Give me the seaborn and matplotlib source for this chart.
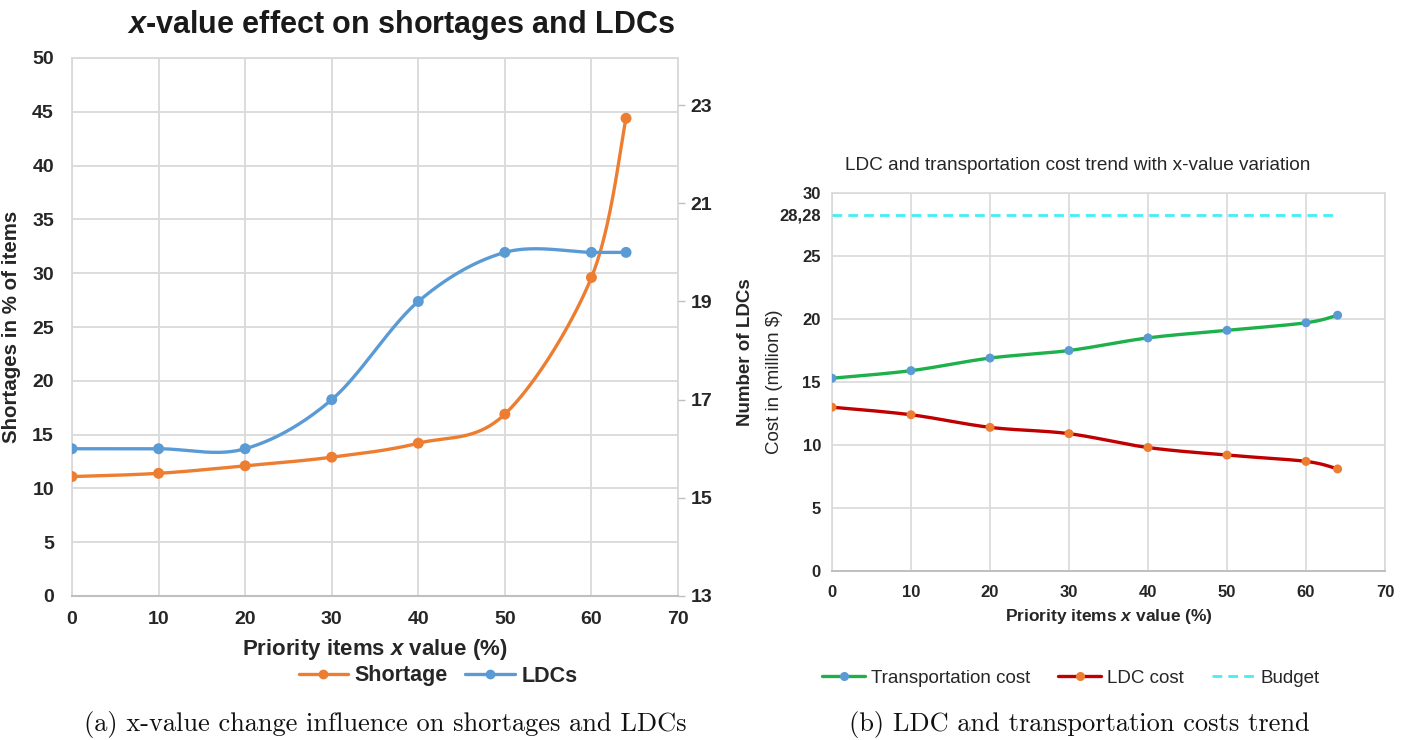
import numpy as np
import pandas as pd
import matplotlib
matplotlib.use("Agg")
import matplotlib.pyplot as plt
import seaborn as sns
from matplotlib.lines import Line2D

# ---------------- data ----------------
x_pct = [0, 10, 20, 30, 40, 50, 60, 64]
shortage = [11.1, 11.4, 12.1, 12.9, 14.2, 16.9, 29.6, 44.4]
ldcs = [16, 16, 16, 17, 19, 20, 20, 20]
transport_cost = [15.3, 15.9, 16.9, 17.5, 18.5, 19.1, 19.7, 20.3]
ldc_cost = [13.0, 12.4, 11.4, 10.9, 9.8, 9.2, 8.7, 8.1]
budget = 28.28
budget_label = "28,28"
xticks = [0, 10, 20, 30, 40, 50, 60, 70]
left_yticks = [0, 5, 10, 15, 20, 25, 30, 35, 40, 45, 50]
right_yticks = [13, 15, 17, 19, 21, 23]
cost_yticks = [0, 5, 10, 15, 20, 25, 30]

# ---------------- style ----------------
sns.set_theme(style="white")
SANS = ["Liberation Sans", "DejaVu Sans"]
plt.rcParams["font.family"] = SANS
plt.rcParams["mathtext.fontset"] = "custom"
plt.rcParams["mathtext.rm"] = "Liberation Sans:bold"
plt.rcParams["mathtext.it"] = "Liberation Sans:italic:bold"
plt.rcParams["mathtext.bf"] = "Liberation Sans:bold"

ORANGE = "#ED7D31"
BLUE = "#5B9BD5"
GREEN = "#1DB04B"
RED = "#C00000"
CYAN = "#45EEF2"
GRID = "#D9D9D9"
TXT = "#262626"


def smooth(xs, ys, n=40):
    """Excel-like smoothed line through the data points (cubic Bezier)."""
    P = np.column_stack([xs, ys]).astype(float)
    Pe = np.vstack([P[0], P, P[-1]])
    t = np.linspace(0, 1, n)[:, None]
    out = []
    for i in range(len(P) - 1):
        p0, p1, p2, p3 = Pe[i], Pe[i + 1], Pe[i + 2], Pe[i + 3]
        c1 = p1 + (p2 - p0) / 6.0
        c2 = p2 - (p3 - p1) / 6.0
        seg = (1 - t) ** 3 * p1 + 3 * (1 - t) ** 2 * t * c1 + 3 * (1 - t) * t ** 2 * c2 + t ** 3 * p2
        out.append(seg if i == 0 else seg[1:])
    S = np.vstack(out)
    return S[:, 0], S[:, 1]


def draw_series(ax, xs, ys, line_color, marker_color, lw=2.2, ms=60, z=3):
    sx, sy = smooth(xs, ys)
    df = pd.DataFrame({"x": sx, "y": sy})
    sns.lineplot(data=df, x="x", y="y", sort=False, estimator=None, ax=ax,
                 color=line_color, lw=lw, zorder=z)
    sns.scatterplot(x=xs, y=ys, ax=ax, color=marker_color, s=ms, edgecolor="none", zorder=z + 1)


W, H = 1408, 740
fig = plt.figure(figsize=(W / 100, H / 100), dpi=100)


def rect(l, t, r, b):
    return [l / W, 1 - b / H, (r - l) / W, (b - t) / H]


# ---------------- left chart ----------------
axL = fig.add_axes(rect(72, 58, 678, 596))
axR = axL.twinx()

draw_series(axL, x_pct, shortage, ORANGE, ORANGE, lw=2.4, ms=62)
draw_series(axR, x_pct, ldcs, BLUE, BLUE, lw=2.4, ms=62)

axL.set_xlim(0, 70)
axL.set_ylim(0, 50)
axL.set_xticks(xticks)
axL.set_yticks(left_yticks)
axL.grid(True, color=GRID, lw=1.3)
axL.set_axisbelow(True)
for s in ["top", "right", "left"]:
    axL.spines[s].set_color(GRID)
    axL.spines[s].set_linewidth(1.3)
axL.spines["bottom"].set_color("#BFBFBF")
axL.spines["bottom"].set_linewidth(1.5)
axL.tick_params(axis="both", length=0, labelsize=14, colors=TXT)
axL.tick_params(axis="x", pad=11)
axL.tick_params(axis="y", pad=13)
for lab in axL.get_xticklabels() + axL.get_yticklabels():
    lab.set_fontweight("bold")
axL.set_xlabel(r"Priority items $\mathit{x}$ value (%)", fontsize=16, fontweight="bold",
               color=TXT, labelpad=6)
axL.set_ylabel("Shortages in % of items", fontsize=14.8, fontweight="bold", color=TXT)
axL.yaxis.set_label_coords((21 - 72) / 606, 0.5)

axR.set_ylim(13, 23.96)
axR.set_yticks(right_yticks)
axR.grid(False)
for s in axR.spines.values():
    s.set_visible(False)
axR.tick_params(axis="y", length=5, width=1, color="#BFBFBF", labelsize=14, colors=TXT, pad=4)
for lab in axR.get_yticklabels():
    lab.set_fontweight("bold")
axR.set_ylabel("")
axR.set_xlabel("")

fig.text(401 / W, 1 - 25 / H, r"$\mathit{x}$-value effect on shortages and LDCs",
         ha="center", va="center", fontsize=22, fontweight="bold", color="#1a1a1a")
fig.text(745 / W, 1 - 352 / H, "Number of LDCs", rotation=90, ha="center", va="center",
         fontsize=13.5, fontweight="bold", color=TXT)

hL = [Line2D([], [], color=ORANGE, lw=2.4, marker="o", ms=6),
      Line2D([], [], color=BLUE, lw=2.4, marker="o", ms=6)]
fig.legend(hL, ["Shortage", "LDCs"], loc="center", bbox_to_anchor=(438 / W, 1 - 676 / H),
           ncol=2, frameon=False, prop={"weight": "bold", "size": 15.5},
           handlelength=2.3, handletextpad=0.3, columnspacing=0.8, labelcolor=TXT)

# ---------------- right chart ----------------
axC = fig.add_axes(rect(832, 193, 1385, 571))

sns.lineplot(x=[x_pct[0], x_pct[-1]], y=[budget, budget], ax=axC, color=CYAN, lw=2,
             linestyle=(0, (3.5, 2.2)), zorder=3)
draw_series(axC, x_pct, transport_cost, GREEN, BLUE, lw=2.4, ms=42)
draw_series(axC, x_pct, ldc_cost, RED, ORANGE, lw=2.4, ms=42)

axC.set_xlim(0, 70)
axC.set_ylim(0, 30)
axC.set_xticks(xticks)
axC.set_yticks(cost_yticks)
axC.set_yticks([budget], minor=True)
axC.set_yticklabels([budget_label], minor=True)
axC.grid(True, which="major", color=GRID, lw=1.2)
axC.set_axisbelow(True)
for s in ["top", "right", "left"]:
    axC.spines[s].set_color(GRID)
    axC.spines[s].set_linewidth(1.2)
axC.spines["bottom"].set_color("#BFBFBF")
axC.spines["bottom"].set_linewidth(1.4)
axC.tick_params(axis="both", which="both", length=0, labelsize=12, colors=TXT)
axC.tick_params(axis="x", pad=10)
axC.tick_params(axis="y", which="both", pad=8)
for lab in axC.get_xticklabels() + axC.get_yticklabels() + axC.get_yticklabels(minor=True):
    lab.set_fontweight("bold")

axC.set_xlabel(r"Priority items $\mathit{x}$ value (%)", fontsize=12.5, fontweight="bold",
               color=TXT, labelpad=5)
axC.set_ylabel("Cost in (million $)", fontsize=13.5, color=TXT)
axC.yaxis.set_label_coords((783 - 832) / 553, 0.5)
axC.set_title("")
fig.text(1078 / W, 1 - 166 / H, "LDC and transportation cost trend with x-value variation",
         ha="center", va="center", fontsize=13.7, color=TXT)

hC = [Line2D([], [], color=GREEN, lw=2.4, marker="o", ms=5.5, markerfacecolor=BLUE, markeredgecolor=BLUE),
      Line2D([], [], color=RED, lw=2.4, marker="o", ms=5.5, markerfacecolor=ORANGE, markeredgecolor=ORANGE),
      Line2D([], [], color=CYAN, lw=2, linestyle=(0, (3.5, 2.2)))]
fig.legend(hC, ["Transportation cost", "LDC cost", "Budget"], loc="center",
           bbox_to_anchor=(1071 / W, 1 - 678 / H), ncol=3, frameon=False,
           prop={"size": 13.5}, handlelength=2.3, handletextpad=0.3,
           columnspacing=1.5, labelcolor=TXT)

# ---------------- captions ----------------
fig.text(385 / W, 1 - 724 / H, "(a) x-value change influence on shortages and LDCs",
         ha="center", va="center", fontsize=19, family="cmr10", color="#111111")
fig.text(1079 / W, 1 - 724 / H, "(b) LDC and transportation costs trend",
         ha="center", va="center", fontsize=19, family="cmr10", color="#111111")

fig.savefig("out.png", dpi=100, facecolor="white")
